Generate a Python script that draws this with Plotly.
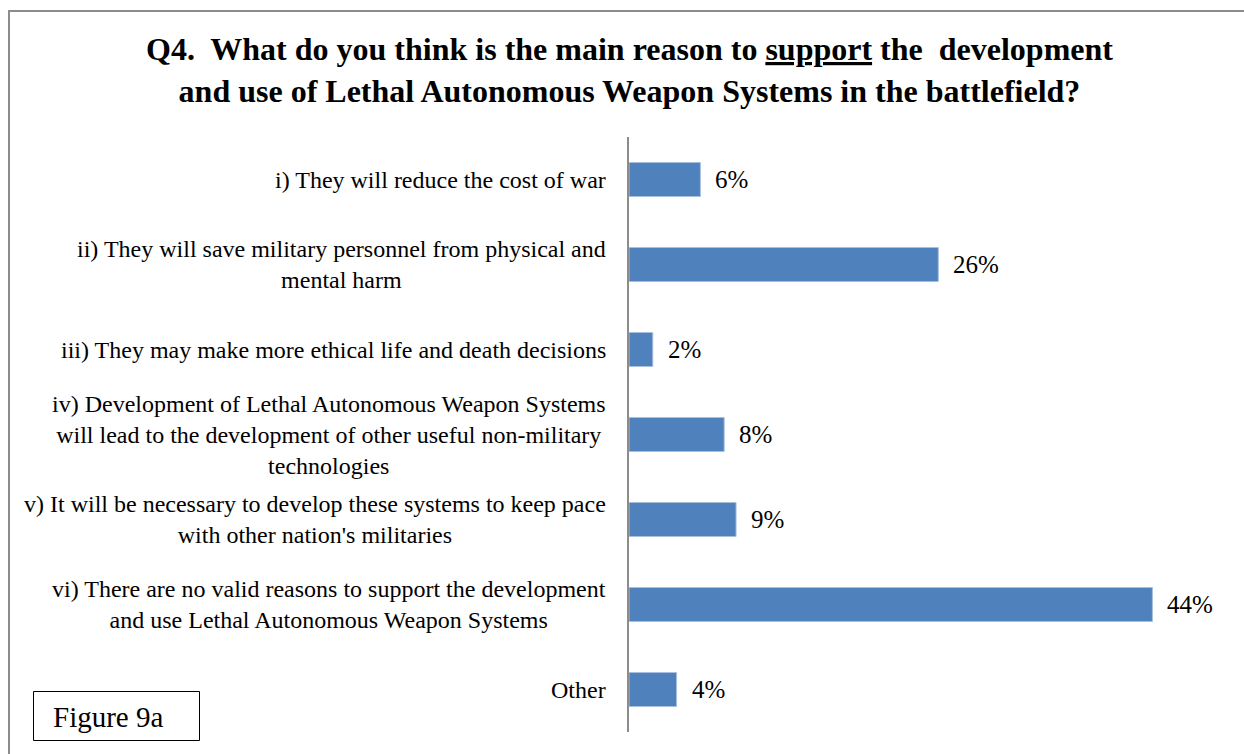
import plotly.graph_objects as go

# Survey answers (top to bottom) and share of respondents, in percent
categories = [
    "i) They will reduce the cost of war",
    "ii) They will save military personnel from physical and<br>mental harm",
    "iii) They may make more ethical life and death decisions",
    "iv) Development of Lethal Autonomous Weapon Systems<br>will lead to the development of other useful non-military<br>technologies",
    "v) It will be necessary to develop these systems to keep pace<br>with other nation's militaries",
    "vi) There are no valid reasons to support the development<br>and use Lethal Autonomous Weapon Systems",
    "Other",
]
percentages = [6, 26, 2, 8, 9, 44, 4]

title_text = ("Q4.  What do you think is the main reason to <u>support</u> the  development<br>"
              "and use of Lethal Autonomous Weapon Systems in the battlefield?")
figure_label = "Figure 9a"

W, H = 1244, 754
ML, MR, MT, MB = 629, 44, 137, 22
PW, PH = W - ML - MR, H - MT - MB

SERIF = "Liberation Serif, Times New Roman, serif"
BAR_FILL = "#4F81BD"
BAR_EDGE = "#A7C0DE"
FRAME = "#8C8C8C"


def px_x(px):
    return (px - ML) / PW


def px_y(py):
    return (H - MB - py) / PH


fig = go.Figure(
    go.Bar(
        x=percentages,
        y=categories,
        orientation="h",
        width=0.4,
        marker=dict(color=BAR_FILL, line=dict(color=BAR_EDGE, width=1)),
        hoverinfo="skip",
    )
)

annotations = []
# chart title, centred over the chart
annotations.append(dict(
    x=px_x(629), xref="paper", y=px_y(29), yref="paper",
    xanchor="center", yanchor="top",
    text=f"<b>{title_text}</b>", align="center", showarrow=False,
    font=dict(family=SERIF, size=32, color="#000000"),
))
# category labels, right-aligned block with centred lines
for cat in categories:
    annotations.append(dict(
        x=0, xref="paper", y=cat, yref="y",
        xanchor="right", yanchor="middle", xshift=-21,
        text=cat, align="center", showarrow=False,
        font=dict(family=SERIF, size=24, color="#000000"),
    ))
# value labels
for cat, v in zip(categories, percentages):
    annotations.append(dict(
        x=v, xref="x", y=cat, yref="y",
        xanchor="left", yanchor="middle", xshift=13,
        text=f"{v}%", showarrow=False,
        font=dict(family=SERIF, size=25, color="#000000"),
    ))
# figure tag inside its box
annotations.append(dict(
    x=px_x(51), xref="paper", y=px_y(717), yref="paper",
    xanchor="left", yanchor="middle",
    text=figure_label, showarrow=False,
    font=dict(family=SERIF, size=29, color="#000000"),
))

shapes = [
    # outer chart frame
    dict(type="rect", xref="paper", yref="paper",
         x0=px_x(9), x1=px_x(W + 20), y0=px_y(H + 20), y1=px_y(11),
         line=dict(color=FRAME, width=2), fillcolor="rgba(0,0,0,0)", layer="below"),
    # box around the figure tag
    dict(type="rect", xref="paper", yref="paper",
         x0=px_x(33.5), x1=px_x(199.5), y0=px_y(740.5), y1=px_y(691.5),
         line=dict(color="#000000", width=1), fillcolor="white"),
]

fig.update_layout(
    width=W, height=H,
    margin=dict(l=ML, r=MR, t=MT, b=MB, pad=0),
    paper_bgcolor="white", plot_bgcolor="white",
    showlegend=False,
    xaxis=dict(range=[0, 48], visible=False, fixedrange=True),
    yaxis=dict(
        autorange="reversed", showticklabels=False, ticks="",
        showgrid=False, zeroline=False,
        showline=True, linecolor=FRAME, linewidth=2,
        fixedrange=True,
    ),
    annotations=annotations,
    shapes=shapes,
)

fig.write_html("out.html")
